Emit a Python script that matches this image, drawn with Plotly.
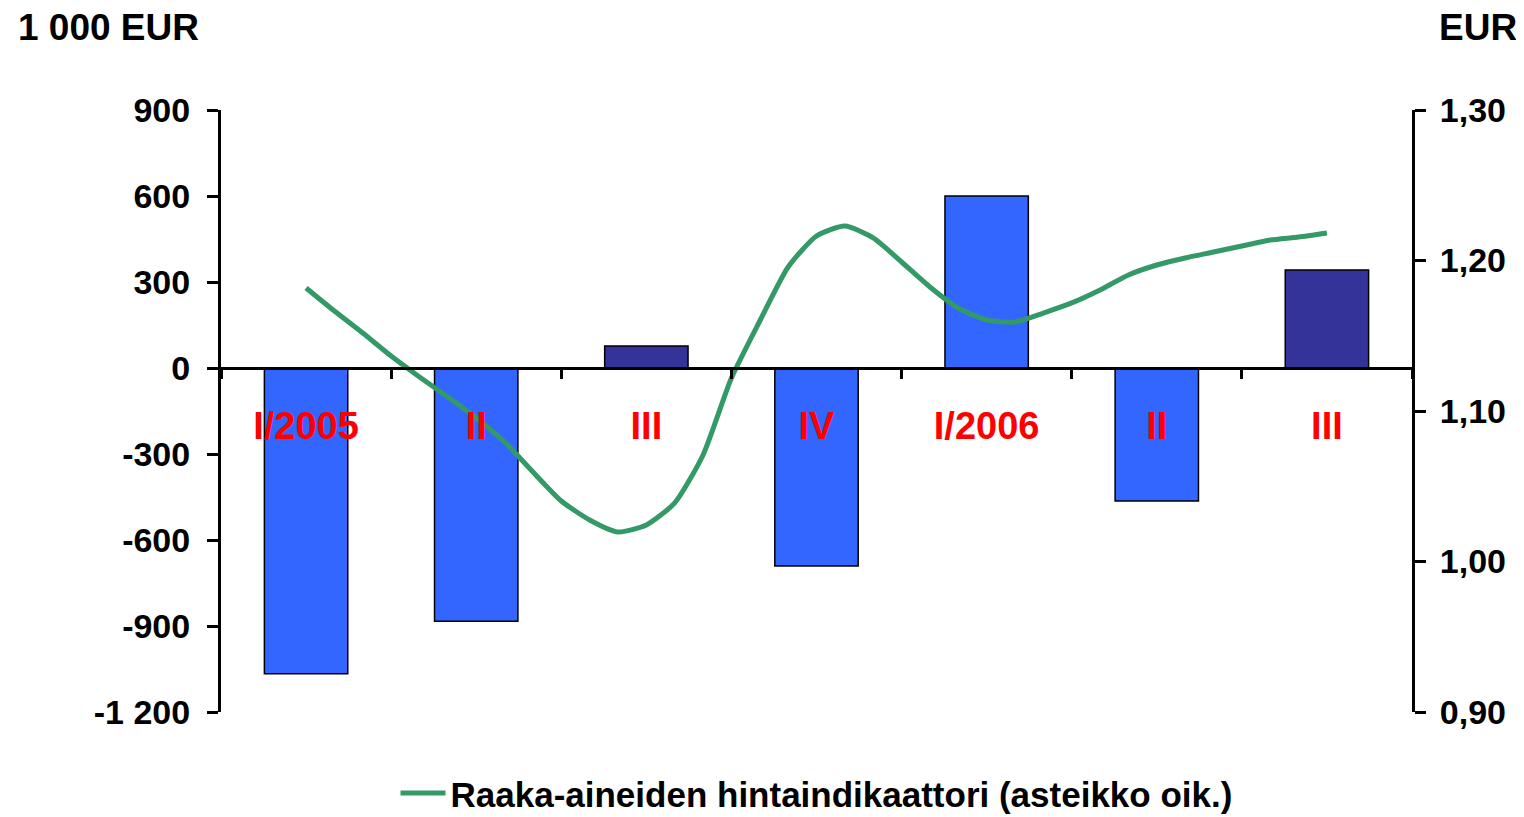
import plotly.graph_objects as go

# ---- data ----
categories = ["I/2005", "II", "III", "IV", "I/2006", "II", "III"]
bar_values = [-1067, -883, 77, -691, 600, -464, 342]
bar_colors = ["#3366FF", "#3366FF", "#333399", "#3366FF", "#3366FF", "#3366FF", "#333399"]

# price indicator (x in quarter units, step 1/6)
line_x = [i / 6 for i in range(37)]
line_y = [1.1817, 1.1664, 1.1518, 1.1365, 1.1226, 1.1093, 1.0953, 1.0794, 1.0595,
          1.0402, 1.0276, 1.0196, 1.0243, 1.0389, 1.0708, 1.1219, 1.1598, 1.1957,
          1.2163, 1.2229, 1.2150, 1.1990, 1.1824, 1.1684, 1.1605, 1.1591, 1.1651,
          1.1718, 1.1804, 1.1904, 1.1970, 1.2017, 1.2056, 1.2096, 1.2136, 1.2156,
          1.2183]
line_name = "Raaka-aineiden hintaindikaattori (asteikko oik.)"

left_ticks = [-1200, -900, -600, -300, 0, 300, 600, 900]
left_ticktext = ["-1 200", "-900", "-600", "-300", "0", "300", "600", "900"]
right_ticks = [0.9, 1.0, 1.1, 1.2, 1.3]
right_ticktext = ["0,90", "1,00", "1,10", "1,20", "1,30"]

FONT = "Arial, Liberation Sans, sans-serif"

fig = go.Figure()
fig.add_trace(go.Bar(
    x=list(range(len(categories))), y=bar_values,
    marker=dict(color=bar_colors, line=dict(color="black", width=1.5)),
    width=0.49, showlegend=False, hoverinfo="skip",
))
fig.add_trace(go.Scatter(
    x=line_x, y=line_y, yaxis="y2", mode="lines", name=line_name,
    line=dict(color="#339966", width=5, shape="spline", smoothing=0.6),
))

boundaries = [i - 0.5 for i in range(len(categories) + 1)]

# page body has an 8px margin: shift figure geometry to compensate
fig.update_layout(
    width=1516, height=809,
    margin=dict(l=213, r=112, t=102, b=105, autoexpand=False),
    paper_bgcolor="white", plot_bgcolor="white",
    font=dict(family=FONT, size=34, color="black", weight="bold"),
    showlegend=True,
    legend=dict(orientation="h", x=0.5, xanchor="center", y=-0.135, yanchor="middle",
                font=dict(size=35, family=FONT, weight="bold"), itemwidth=45,
                borderwidth=0, tracegroupgap=0),
    xaxis=dict(
        range=[-0.5, len(categories) - 0.5],
        anchor="free", position=1200 / 2100,
        tickmode="array", tickvals=list(range(len(categories))), ticktext=categories,
        ticks="", showline=True, linecolor="black", linewidth=3,
        tickfont=dict(color="#FF0000", size=38, family=FONT, weight="bold"),
        ticklabelstandoff=23, automargin=False,
        minor=dict(tickmode="array", tickvals=boundaries, ticks="outside",
                   ticklen=9, tickwidth=3, tickcolor="black", showgrid=False),
        showgrid=False, zeroline=False, fixedrange=True,
    ),
    yaxis=dict(
        range=[-1200, 900], tickmode="array", tickvals=left_ticks, ticktext=left_ticktext,
        ticks="outside", ticklen=11, tickwidth=3, tickcolor="black",
        showline=True, linecolor="black", linewidth=3,
        showgrid=False, zeroline=False, automargin=False,
        tickfont=dict(size=34, family=FONT, weight="bold"),
        ticklabelstandoff=10,
    ),
    yaxis2=dict(
        range=[0.9, 1.3], overlaying="y", side="right",
        tickmode="array", tickvals=right_ticks, ticktext=right_ticktext,
        ticks="outside", ticklen=11, tickwidth=3, tickcolor="black",
        showline=True, linecolor="black", linewidth=3,
        showgrid=False, zeroline=False, automargin=False,
        tickfont=dict(size=34, family=FONT, weight="bold"),
        ticklabelstandoff=7,
    ),
    annotations=[
        dict(text="1 000 EUR", xref="paper", yref="paper", x=(14 - 219) / 1193,
             y=(712 - 27) / 602, xanchor="left", yanchor="middle", showarrow=False,
             font=dict(size=37, family=FONT, weight="bold")),
        dict(text="EUR", xref="paper", yref="paper", x=(1519 - 219) / 1193,
             y=(712 - 27) / 602, xanchor="right", yanchor="middle", showarrow=False,
             font=dict(size=37, family=FONT, weight="bold")),
    ],
)

fig.write_html("out.html")
